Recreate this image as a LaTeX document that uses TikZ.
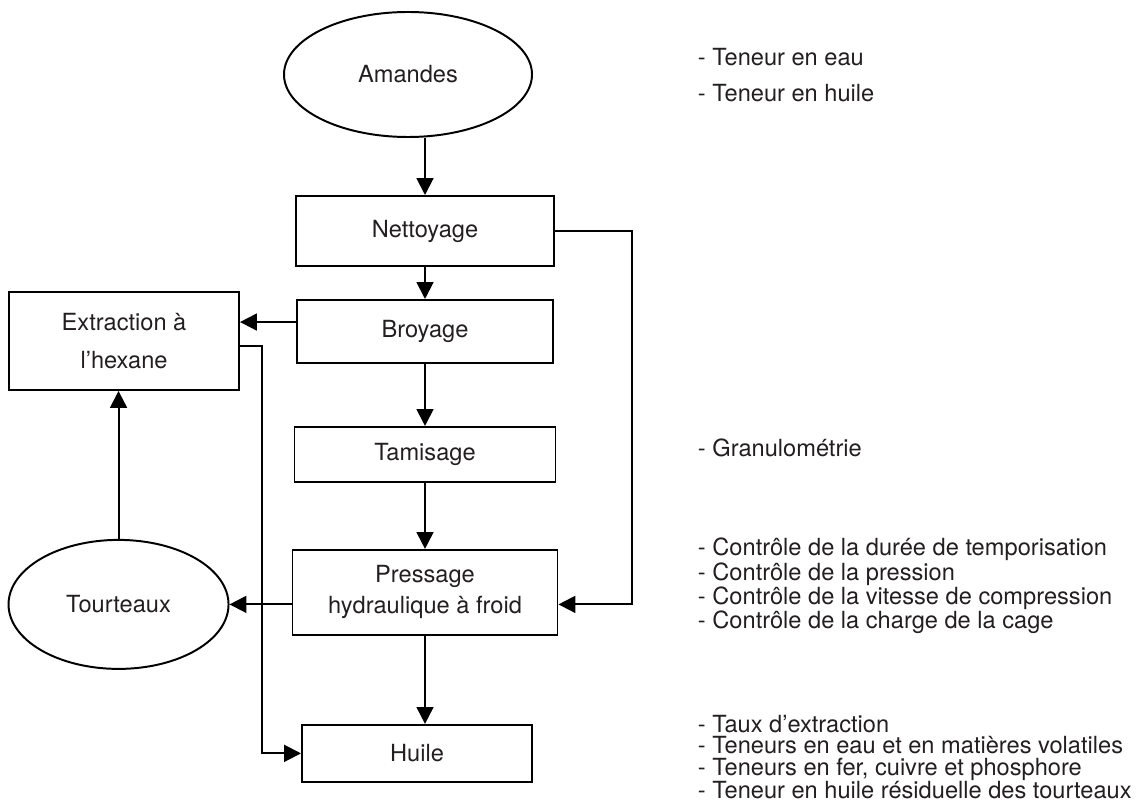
\documentclass[tikz,border=0pt]{standalone}
\usepackage{fontspec}
\setmainfont{TeX Gyre Heros}
\definecolor{inkGray}{RGB}{35,31,32}
\usetikzlibrary{arrows.meta,positioning,shapes.geometric}
\newdimen\pxu \pxu=0.025cm

\begin{document}
\begin{tikzpicture}[x=0.025cm, y=-0.025cm, line width=1.4pt,
    box/.style={rectangle, draw=black, inner sep=0pt, align=center, text=inkGray, font=\fontsize{16.8}{22}\selectfont},
    blob/.style={ellipse, draw=black, inner sep=0pt, align=center, text=inkGray, font=\fontsize{16.8}{22}\selectfont},
    note/.style={anchor=west, align=left, inner sep=0pt, text=inkGray, font=\fontsize{16.8}{15.3}\selectfont},
    flow/.style={-{Triangle[length=12pt, width=12pt]}, line width=1.4pt, black}]
    \useasboundingbox (0,0) rectangle (1146,807);

    % main column
    \node[blob, minimum width=248\pxu, minimum height=125\pxu] (amandes) at (408,74.5) {Amandes};
    \node[box, minimum width=258\pxu, minimum height=70\pxu] (nett) at (425,231) {Nettoyage};
    \node[box, minimum width=256\pxu, minimum height=63\pxu, below=32\pxu of nett] (broy) {Broyage};
    \node[box, minimum width=261\pxu, minimum height=55\pxu, below=62\pxu of broy] (tam) {Tamisage};
    \node[box, minimum width=265\pxu, minimum height=85\pxu, below=66\pxu of tam] (press) {Pressage\\hydraulique à froid};
    \node[box, minimum width=230\pxu, minimum height=57\pxu, below=88\pxu of press, xshift=-8\pxu] (huile) {Huile};

    % side branch
    \node[box, minimum width=230\pxu, minimum height=98\pxu, left=56\pxu of broy, yshift=-9.5\pxu] (extr) {Extraction à\\[5pt]l’hexane};
    \node[blob, minimum width=220\pxu, minimum height=129\pxu, left=62\pxu of press, yshift=-12\pxu] (tourt) {Tourteaux};

    % controls
    \node[note] (ctlAm) at (697,75) {- Teneur en eau\\[10pt]- Teneur en huile};
    \node[note] (ctlTam) at (697,448) {- Granulométrie};
    \node[note] (ctlPress) at (697,586) {- Contrôle de la durée de temporisation\\- Contrôle de la pression\\- Contrôle de la vitesse de compression\\- Contrôle de la charge de la cage};
    \node[note] (ctlHuile) at (697,757) {- Taux d’extraction\\- Teneurs en eau et en matières volatiles\\- Teneurs en fer, cuivre et phosphore\\- Teneur en huile résiduelle des tourteaux};

    \draw[flow] (amandes.south -| nett.north) -- (nett.north);
    \draw[flow] (nett) -- (broy);
    \draw[flow] (broy) -- (tam);
    \draw[flow] (tam) -- (press);
    \draw[flow] (press.south) -- (press.south |- huile.north);
    \draw[flow] (nett.east) -- ++(77,0) |- (press.east |- tourt.east);
    \draw[flow] (press.west |- tourt.east) -- (tourt.east);
    \draw[flow] (tourt.north) -- (tourt.north |- extr.south);
    \coordinate (broyOut) at ([yshift=6.7pt]broy.west);
    \draw[flow] (broyOut) -- (broyOut -| extr.east);
    \draw[flow] ([yshift=-3.5pt]extr.east) -- ++(22,0) |- (huile.west);
\end{tikzpicture}
\end{document}
